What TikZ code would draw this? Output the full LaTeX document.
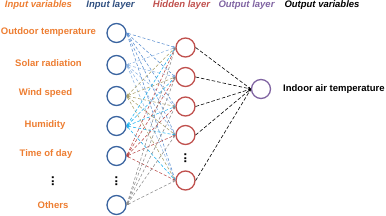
\documentclass[tikz,border=0pt]{standalone}
\usepackage{fontspec}
\setmainfont{Liberation Sans}
\usetikzlibrary{arrows.meta}
\definecolor{corange}{HTML}{ED7D31}
\definecolor{cinblue}{HTML}{3A64A0}
\definecolor{chead}{HTML}{2F4F80}
\definecolor{cred}{HTML}{C0504D}
\definecolor{cpurple}{HTML}{8064A2}
\definecolor{lsteel}{HTML}{5B8FD0}
\definecolor{lblue}{HTML}{8DB4E2}
\definecolor{lolive}{HTML}{A89F68}
\definecolor{lcyan}{HTML}{1CB0EE}
\definecolor{lred}{HTML}{B84A48}
\definecolor{lgray}{HTML}{8C8C8C}
\begin{document}
\begin{tikzpicture}[x=1pt,y=-1pt,
  neuron/.style={circle,draw,line width=1.3pt,minimum size=19pt,inner sep=0pt,fill=white},
  inneuron/.style={neuron,draw=cinblue},
  hidneuron/.style={neuron,draw=cred},
  outneuron/.style={neuron,draw=cpurple},
  hdr/.style={font=\fontsize{9.5}{11}\selectfont\bfseries\itshape,inner sep=0pt},
  lab/.style={font=\fontsize{9.5}{11}\selectfont\bfseries,text=corange,inner sep=0pt},
  link/.style={dashed,dash pattern=on 3pt off 2pt,line width=0.55pt,{Stealth[length=2.6pt,width=2pt]}-{Stealth[length=2.6pt,width=2pt]}},
  olink/.style={dashed,dash pattern=on 3.5pt off 2pt,line width=0.6pt,black,-{Stealth[length=2.6pt,width=2pt]}},
  vdots/.style={font=\fontsize{13}{13}\selectfont\bfseries,inner sep=0pt}
]
\useasboundingbox (0,0) rectangle (386,215);
% headers
\node[hdr,text=corange] (h_inv) at (38.5,5.5) {Input variables};
\node[hdr,text=chead] (h_inl) at (110.5,5.5) {Input layer};
\node[hdr,text=cred] (h_hid) at (181.5,5.5) {Hidden layer};
\node[hdr,text=cpurple] (h_out) at (246.5,5.5) {Output layer};
\node[hdr,text=black] (h_ov) at (322,5.5) {Output variables};
% labels
\node[lab] (l1) at (48.5,32) {Outdoor temperature};
\node[lab] (l2) at (48.5,63) {Solar radiation};
\node[lab] (l3) at (45.5,93) {Wind speed};
\node[lab] (l4) at (45,125) {Humidity};
\node[lab] (l5) at (46,154) {Time of day};
\node[vdots] (ld) at (53,181.5) {\rotatebox{90}{\textbf{...}}};
\node[lab] (l6) at (53,205) {Others};
% input neurons
\node[inneuron] (i1) at (116.5,33) {};
\node[inneuron] (i2) at (116.5,65) {};
\node[inneuron] (i3) at (116.5,96) {};
\node[inneuron] (i4) at (116.5,126) {};
\node[inneuron] (i5) at (116.5,156) {};
\node[vdots] (id) at (116.5,181.5) {\rotatebox{90}{\textbf{...}}};
\node[inneuron] (i6) at (116.5,205) {};
% hidden neurons
\node[hidneuron] (n1) at (185.5,47.5) {};
\node[hidneuron] (n2) at (185.5,77) {};
\node[hidneuron] (n3) at (185.5,106.5) {};
\node[hidneuron] (n4) at (185.5,135) {};
\node[vdots] (nd) at (185.5,158.5) {\rotatebox{90}{\textbf{...}}};
\node[hidneuron] (n5) at (185.5,180.5) {};
% output
\node[outneuron] (o1) at (261,89) {};
\node[font=\fontsize{9.5}{11}\selectfont\bfseries,anchor=west,inner sep=0pt] (ot) at (283,89) {Indoor air temperature};
% links
\foreach \i/\c in {1/lsteel,2/lblue,3/lolive,4/lcyan,5/lred,6/lgray}{
  \foreach \h in {1,...,5}{
    \draw[link,draw=\c] (i\i.east) -- (n\h.west);
  }
}
\foreach \h in {1,...,5}{
  \draw[olink] (n\h.east) -- (o1.west);
}
\end{tikzpicture}
\end{document}
